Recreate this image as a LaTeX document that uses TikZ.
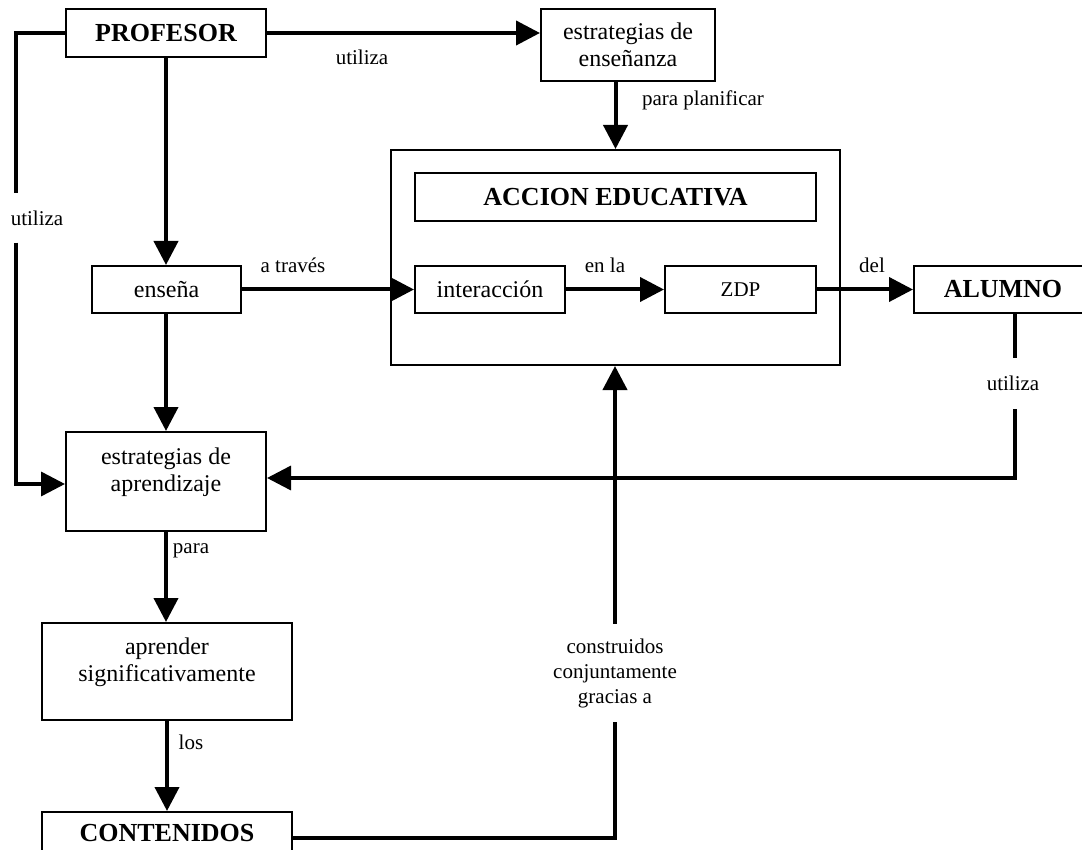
\documentclass[tikz,border=0pt]{standalone}
\usepackage{fontspec}
\setmainfont{Liberation Serif}
\usetikzlibrary{arrows.meta}
\begin{document}
\begin{tikzpicture}[x=1pt,y=-1pt,
  box/.style={draw, line width=2pt, rectangle, inner sep=0pt, align=center, font=\fontsize{24}{27}\selectfont},
  bbox/.style={box, font=\fontsize{26}{30}\selectfont\bfseries},
  txt/.style={font=\fontsize{24}{27}\selectfont, align=center, inner sep=0pt},
  conn/.style={line width=4pt, -{Triangle[length=24pt,width=24pt]}},
  plainline/.style={line width=4pt},
  lbl/.style={font=\fontsize{21}{25}\selectfont, inner sep=0pt, align=center},
]
\useasboundingbox (0,0) rectangle (1082,850);

% boxes
\node[bbox, minimum width=200pt, minimum height=48pt] (prof) at (166,33) {PROFESOR};
\node[box, minimum width=174pt, minimum height=72pt] (ensz) at (628,45) {estrategias de\\enseñanza};
\node[draw, line width=2pt, minimum width=449pt, minimum height=215pt, inner sep=0pt] (accion) at (615.5,257.5) {};
\node[bbox, minimum width=401pt, minimum height=48pt] (acced) at (615.5,197) {ACCION EDUCATIVA};
\node[box, minimum width=149pt, minimum height=47pt] (ensena) at (166.5,289.5) {enseña};
\node[box, minimum width=150pt, minimum height=47pt] (inter) at (490,289.5) {interacción};
\node[box, minimum width=151pt, minimum height=47pt, font=\fontsize{21}{25}\selectfont] (zdp) at (740.5,289.5) {ZDP};
\node[bbox, minimum width=178pt, minimum height=47pt] (alumno) at (1003,289.5) {ALUMNO};
\node[box, minimum width=200pt, minimum height=99pt,
      label={[txt, yshift=9pt]center:estrategias de\\aprendizaje}] (aprz) at (166,481.5) {};
\node[box, minimum width=250pt, minimum height=97pt,
      label={[txt, yshift=9pt]center:aprender\\significativamente}] (aprender) at (167,671.5) {};
\node[bbox, minimum width=250pt, minimum height=42pt] (conten) at (167,833) {CONTENIDOS};

% labels
\node[lbl] (l1) at (362,57) {utiliza};
\node[lbl, minimum height=49pt] (l2) at (37,218) {utiliza};
\node[lbl] (l5) at (293,265) {a través};
\node[lbl] (l6) at (605,265) {en la};
\node[lbl] (l7) at (872,265) {del};
\node[lbl] (l8) at (703,100) {para planificar};
\node[lbl, minimum height=51pt] (l3) at (1013,383.5) {utiliza};
\node[lbl] (l9) at (191,551) {para};
\node[lbl] (l10) at (191,742) {los};
\node[lbl, minimum height=98pt] (l4) at (615,673) {construidos\\conjuntamente\\gracias a};

% connectors
\draw[conn] (prof.east) -- (prof.east -| ensz.west);

\coordinate (lx) at (16,33);
\draw[plainline] (prof.west) -- (lx) -- (lx |- l2.north);
\draw[conn, line width=3.5pt] (lx |- l2.south) -- (lx |- 0,484) -- (aprz.west |- 0,484);

\draw[conn] (prof.south) -- (prof.south |- ensena.north);
\draw[conn] (ensena.east) -- (inter.west);
\draw[conn] (inter.east) -- (zdp.west);
\draw[conn] (zdp.east) -- (alumno.west);
\draw[conn] (ensz.south -| accion.north) -- (accion.north);
\draw[conn] (ensena.south -| aprz.north) -- (aprz.north);

\coordinate (rx) at (1015,313);
\draw[plainline] (alumno.south -| rx) -- (rx |- l3.north);
\draw[conn, line width=3.5pt] (rx |- l3.south) -- (rx |- 0,478) -- (aprz.east |- 0,478);

\draw[conn] (aprz.south) -- (aprz.south |- aprender.north);
\draw[conn] (aprender.south) -- (aprender.south |- conten.north);

\coordinate (bx) at (615,838);
\draw[plainline] ([yshift=-5pt]conten.east) -- (bx) -- (l4.south -| bx);
\draw[conn] (l4.north -| bx) -- (bx |- accion.south);
\end{tikzpicture}
\end{document}
